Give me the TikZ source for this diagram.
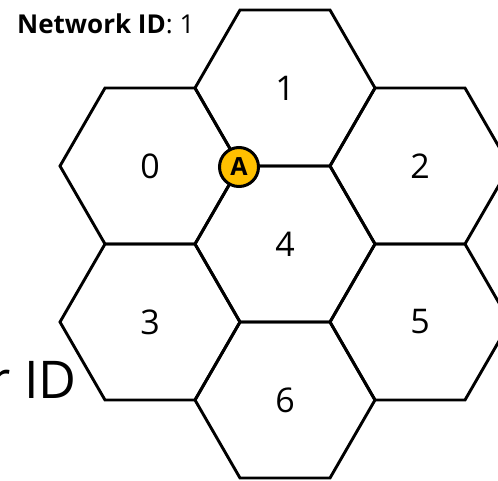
\documentclass[tikz,border=0pt]{standalone}
\usepackage{fontspec}
\setmainfont{Open Sans}
\definecolor{gold}{HTML}{FFC000}
\begin{document}
\begin{tikzpicture}[x=1pt,y=-1pt,
  hexline/.style={line width=2.9pt,line join=miter},
  hexlabel/.style={font=\fontsize{34}{34}\selectfont,inner sep=0pt},
  marker/.style={circle,draw=black,line width=3pt,fill=gold,minimum size=39pt,inner sep=0pt,font=\fontsize{25}{25}\selectfont\bfseries}]
\useasboundingbox (0,0) rectangle (498,480);
\foreach \n/\cx/\cy in {1/285/88,0/150/166,2/420/166,4/285/244,3/150/322,5/420/322,6/285/400}{
  \draw[hexline] (\cx-90,\cy) -- (\cx-45,\cy-78) -- (\cx+45,\cy-78) -- (\cx+90,\cy) -- (\cx+45,\cy+78) -- (\cx-45,\cy+78) -- cycle;
  \node[hexlabel] (h\n) at (\cx,\cy) {\n};
}
\node[marker] (A) at (239,167) {A};
\node[anchor=base west,inner sep=0pt,font=\fontsize{26}{26}\selectfont] (title) at (17,33) {\textbf{Network ID}: 1};
\node[anchor=base east,inner sep=0pt,font=\fontsize{52}{52}\selectfont] (cid) at (77,398) {r ID};
\end{tikzpicture}
\end{document}
